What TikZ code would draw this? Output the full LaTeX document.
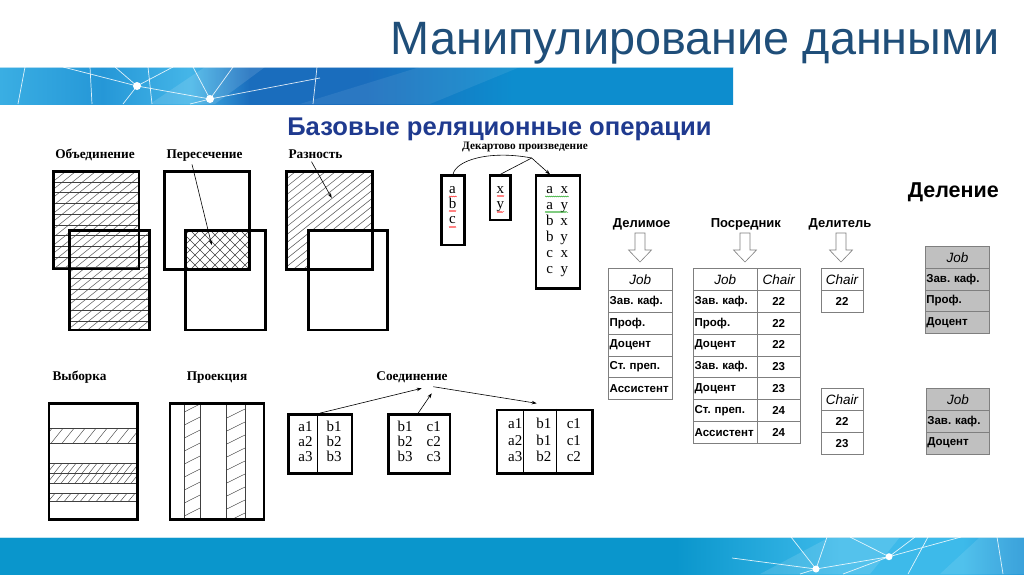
\documentclass[tikz,border=0pt]{standalone}
\usepackage{fontspec}
\setmainfont{Liberation Sans}
\newfontfamily\timesfont{Liberation Serif}
\usetikzlibrary{arrows.meta, positioning, decorations.pathmorphing}

\definecolor{titleblue}{HTML}{1F4E79}
\definecolor{subblue}{HTML}{1F3A8F}
\definecolor{barL}{HTML}{3AAEE3}
\definecolor{barM}{HTML}{2597D7}
\definecolor{barLight}{HTML}{45B6E8}
\definecolor{barD}{HTML}{1A6DBD}
\definecolor{barR}{HTML}{0D8DCE}
\definecolor{footblue}{HTML}{0A96CC}
\definecolor{footLight}{HTML}{3DBAEA}
\definecolor{tabgray}{HTML}{7F7F7F}
\definecolor{resgray}{HTML}{C0C0C0}
\pgfdeclarehorizontalshading{headbar}{100bp}{color(0bp)=(barL); color(25bp)=(barL); color(32bp)=(barM); color(38bp)=(barLight); color(42bp)=(barD); color(50bp)=(barD); color(60bp)=(barR); color(100bp)=(barR)}
\pgfdeclarehorizontalshading{footbar}{100bp}{color(0bp)=(footblue); color(58bp)=(footblue); color(66bp)=(footLight); color(72bp)=(footLight); color(75bp)=(barM); color(100bp)=(barM)}
\frenchspacing

\begin{document}
\begin{tikzpicture}[x=1pt, y=-1pt,
    frame/.style={line width=2.6pt},
    hatch/.style={line width=0.45pt, black!75},
    net/.style={white, line width=0.7pt, opacity=0.85},
    oplabel/.style={anchor=base, font=\timesfont\bfseries\fontsize{13.3}{15}\selectfont},
    setbox/.style={draw, line width=2.6pt, inner sep=0pt},
    setvals/.style={inner sep=0pt, font=\timesfont\fontsize{15}{15}\selectfont},
    joinbox/.style={draw, line width=2.4pt, inner sep=0pt, font=\timesfont\fontsize{15}{15}\selectfont},
    link/.style={line width=0.6pt},
    ptr/.style={-{Stealth[length=5pt, width=3.5pt]}, line width=0.6pt},
    squig/.style={decorate, decoration={snake, amplitude=0.5pt, segment length=2pt}, line width=0.4pt},
    divlabel/.style={anchor=base, font=\bfseries\fontsize{13}{15}\selectfont},
    cell/.style={draw=tabgray, line width=0.7pt, anchor=north west, minimum height=21.8pt, inner sep=1pt, font=\bfseries\fontsize{11.5}{13}\selectfont},
    jobcell/.style={cell, text width=61.4pt, align=left},
    hdcell/.style={cell, font=\itshape\fontsize{13.5}{15}\selectfont},
    numcell/.style={cell, minimum width=43.3pt},
    hollowdown/.pic={\draw[tabgray, line width=0.6pt, fill=white] (-5,0) -- (5,0) -- (5,17) -- (11.5,17) -- (0,29) -- (-11.5,17) -- (-5,17) -- cycle;}
  ]
  \useasboundingbox (0,0) rectangle (1024,574);
  \fill[white] (0,0) rectangle (1024,574);

  % header bar
  \shade[shading=headbar] (0,67) rectangle (733,104);
  \fill[white, opacity=0.12] (150,104) -- (205,67) -- (265,67) -- (215,104) -- cycle;
  \fill[white, opacity=0.08] (300,104) -- (420,67) -- (520,67) -- (430,104) -- cycle;
  \draw[white, opacity=0.6, line width=1pt] (0,67.5) -- (733,67.5);
  \draw[net] (25,67) -- (18,104) (63,67) -- (137,86) -- (210,99) -- (320,78)
    (90,67) -- (92,104) (115,67) -- (137,86) -- (123,104) (137,86) -- (173,67)
    (148,67) -- (152,104) (193,67) -- (210,99) -- (233,67) (210,99) -- (190,104)
    (317,67) -- (313,104);
  \fill[white] (137,86) circle (4) (210,99) circle (4);

  % footer bar
  \shade[shading=footbar] (0,537) rectangle (1024,574);
  \fill[white, opacity=0.12] (760,574) -- (830,537) -- (900,537) -- (870,574) -- cycle;
  \fill[white, opacity=0.10] (940,574) -- (980,537) -- (1024,537) -- (1024,574) -- cycle;
  \draw[footblue!25, line width=1.2pt] (0,537.5) -- (1024,537.5);
  \draw[net] (791,537) -- (816,569) -- (827,537) (850,537) -- (889,556.7) -- (915,537)
    (889,556.7) -- (961,537) (889,556.7) -- (843,574) (928,537) -- (908,574)
    (732,558) -- (816,569) -- (800,574) (816,569) -- (889,556.7) (997,537) -- (1003,574);
  \fill[white] (889,556.7) circle (3.5) (816,569) circle (3.5);

  % titles
  \node[anchor=base east, inner sep=0pt, text=titleblue, font=\fontsize{46.8}{55}\selectfont] (title) at (1000,54) {Манипулирование данными};
  \node[anchor=base, inner sep=0pt, text=subblue, font=\bfseries\fontsize{25.6}{30}\selectfont] (subtitle) at (499.5,135) {Базовые реляционные операции};

  % union
  \node[oplabel] (lblUnion) at (95,158) {Объединение};
  \begin{scope}
    \clip (53.3,171.7) rectangle (139,269) (69.3,230.7) rectangle (149.3,330);
    \foreach \i in {-200,-190,...,140} \draw[hatch] (\i,360) -- ++(250,-200);
    \foreach \y in {182,192.7,...,330} \draw[hatch] (40,\y) -- (160,\y);
  \end{scope}
  \draw[frame] (53.3,171.7) rectangle (139,269);
  \draw[frame] (69.3,230.7) rectangle (149.3,330);

  % intersection
  \node[oplabel] (lblInter) at (204.5,158) {Пересечение};
  \begin{scope}
    \clip (185.7,230.7) rectangle (249.3,269.3);
    \foreach \i in {100,110,...,260} {
      \draw[hatch] (\i,290) -- ++(80,-80);
      \draw[hatch] (\i,210) -- ++(80,80);
    }
  \end{scope}
  \draw[frame] (164.3,171.7) rectangle (249.3,269.3);
  \draw[frame] (185.7,230.7) rectangle (265.3,330);
  \coordinate (interPt) at (211.7,245);
  \draw[ptr] ([xshift=-12.5pt]lblInter.south) -- (interPt);

  % difference
  \node[oplabel] (lblDiff) at (315.5,158) {Разность};
  \begin{scope}
    \clip (286.7,171.7) rectangle (372.3,269.3);
    \foreach \i in {40,50,...,270} \draw[hatch] (\i,360) -- ++(250,-200);
  \end{scope}
  \fill[white] (308.3,230.7) rectangle (387.7,330);
  \draw[frame] (286.7,171.7) rectangle (372.3,269.3);
  \draw[frame] (308.3,230.7) rectangle (387.7,330);
  \coordinate (diffPt) at (331.7,198);
  \draw[ptr] ([xshift=-4pt]lblDiff.south) -- (diffPt);

  % cartesian product
  \node[oplabel, font=\timesfont\bfseries\fontsize{11.3}{13}\selectfont] (lblProd) at (525,149.5) {Декартово произведение};
  \node[setbox, minimum width=22.6pt, minimum height=69.3pt] (setA) at (453,210.3) {};
  \node[setbox, minimum width=20.7pt, minimum height=44.3pt] (setB) at (500.3,197.8) {};
  \node[setbox, minimum width=44pt, minimum height=112.6pt] (setC) at (558,232) {};
  \node[setvals] (valsA) at (452.5,205.5) {\begin{tabular}{@{}c@{}}a\\ b\\ c\end{tabular}};
  \node[setvals] (valsB) at (500.3,198) {\begin{tabular}{@{}c@{}}x\\ y\end{tabular}};
  \node[setvals, font=\timesfont\fontsize{15}{16}\selectfont] (valsC) at (557,230.5)
    {\begin{tabular}{@{}c@{\hspace{7pt}}c@{}}a & x\\ a & y\\ b & x\\ b & y\\ c & x\\ c & y\end{tabular}};
  \draw[squig, red] (449,196.5) -- (456,196.5) (449,211.5) -- (456,211.5) (449,226.5) -- (456,226.5)
    (497,196.5) -- (504,196.5) (497,211.5) -- (504,211.5);
  \draw[squig, green!60!black] (545,196.5) -- (568,196.5) (545,212.5) -- (568,212.5);
  \coordinate (prodHub) at (531.7,158);
  \draw[link] (setA.north) .. controls (456,160) and (490,150) .. (prodHub);
  \draw[link] (setB.north) -- (prodHub);
  \draw[ptr] (prodHub) -- ([xshift=-8pt]setC.north);

  % selection
  \node[oplabel] (lblSel) at (79.5,380) {Выборка};
  \begin{scope}
    \clip (49,403.3) rectangle (137.3,519.3);
    \draw[hatch] (40,428.3) -- (145,428.3) (40,443.3) -- (145,443.3)
      (40,463.3) -- (145,463.3) (40,473.3) -- (145,473.3) (40,483.3) -- (145,483.3)
      (40,493.3) -- (145,493.3) (40,501.7) -- (145,501.7);
    \foreach \x in {40,51,...,140} \draw[hatch] (\x,443.3) -- ++(12,-15);
    \foreach \x in {40,47,...,140} {
      \draw[hatch] (\x,473.3) -- ++(8,-10);
      \draw[hatch] (\x,483.3) -- ++(8,-10);
    }
    \foreach \x in {40,48,...,140} \draw[hatch] (\x,501.7) -- ++(7,-8.4);
  \end{scope}
  \draw[frame] (49,403.3) rectangle (137.3,519.3);

  % projection
  \node[oplabel] (lblProj) at (217,380) {Проекция};
  \begin{scope}
    \clip (184.3,403.3) rectangle (200,519.3);
    \foreach \y in {412,425,...,530} \draw[hatch] (184.3,\y) -- (200,{\y-8});
  \end{scope}
  \begin{scope}
    \clip (226.7,403.3) rectangle (245,519.3);
    \foreach \y in {405,418,...,530} \draw[hatch] (226.7,\y) -- (245,{\y-9});
  \end{scope}
  \draw[hatch] (184.3,403.3) -- (184.3,519.3) (200,403.3) -- (200,519.3)
    (226.7,403.3) -- (226.7,519.3) (245,403.3) -- (245,519.3);
  \draw[frame] (170,403.3) rectangle (264,519.3);

  % join
  \node[oplabel] (lblJoin) at (412,380) {Соединение};
  \node[joinbox, minimum width=63.4pt, minimum height=59pt] (joinA) at (320,443.8)
    {\begin{tabular}{@{}c@{\hspace{14pt}}c@{}}a1 & b1\\ a2 & b2\\ a3 & b3\end{tabular}};
  \node[joinbox, minimum width=61.7pt, minimum height=59pt] (joinB) at (419.2,443.8)
    {\begin{tabular}{@{}c@{\hspace{14pt}}c@{}}b1 & c1\\ b2 & c2\\ b3 & c3\end{tabular}};
  \node[joinbox, minimum width=95.6pt, minimum height=63.3pt, font=\timesfont\fontsize{15}{16.7}\selectfont] (joinC) at (544.5,441.7)
    {\begin{tabular}{@{}c@{\hspace{14pt}}c@{\hspace{15.5pt}}c@{}}a1 & b1 & c1\\ a2 & b1 & c1\\ a3 & b2 & c2\end{tabular}};
  \draw[link] ([xshift=-2.3pt]joinA.north) -- ([xshift=-2.3pt]joinA.south);
  \draw[link] ([xshift=-21.2pt]joinC.north) -- ([xshift=-21.2pt]joinC.south);
  \draw[link] ([xshift=12.2pt]joinC.north) -- ([xshift=12.2pt]joinC.south);
  \coordinate (joinTipA) at (421.7,388.3);
  \coordinate (joinTipB) at (431.7,393.3);
  \coordinate (joinHub) at (433.3,386.7);
  \coordinate (joinEnd) at (536.7,403.3);
  \draw[ptr] (joinA.north) -- (joinTipA);
  \draw[ptr] ([xshift=-1pt]joinB.north) -- (joinTipB);
  \draw[ptr] (joinHub) -- (joinEnd);

  % division
  \node[anchor=base east, inner sep=0pt, font=\bfseries\fontsize{21.5}{25}\selectfont] (lblDivision) at (999,197) {Деление};
  \node[divlabel] (lblDividend) at (641.7,227.5) {Делимое};
  \node[divlabel] (lblMediator) at (745.8,227.5) {Посредник};
  \node[divlabel] (lblDivisor) at (840,227.5) {Делитель};
  \pic at (640,233) {hollowdown};
  \pic at (745,233) {hollowdown};
  \pic at (841,233) {hollowdown};

  % dividend table
  \node[hdcell, minimum width=63.4pt] (dd0) at (608.3,268.3) {Job};
  \foreach \t [count=\i] in {Зав. каф., Проф., Доцент, Ст. преп., Ассистент}
    \node[jobcell] (dd\i) at (608.3,{268.3+21.8*\i}) {\t};

  % mediator table
  \node[hdcell, minimum width=63.4pt] (mj0) at (693.3,268.3) {Job};
  \node[hdcell, minimum width=43.3pt] (mc0) at (756.7,268.3) {Chair};
  \foreach \t/\n [count=\i] in {Зав. каф./22, Проф./22, Доцент/22, Зав. каф./23, Доцент/23, Ст. преп./24, Ассистент/24} {
    \node[jobcell] (mj\i) at (693.3,{268.3+21.8*\i}) {\t};
    \node[numcell] (mc\i) at (756.7,{268.3+21.8*\i}) {\n};
  }

  % divisors
  \node[hdcell, minimum width=42pt] (dv0) at (820.7,268.3) {Chair};
  \node[numcell, minimum width=42pt] (dv1) at (820.7,290.1) {22};
  \node[hdcell, minimum width=42pt] (dw0) at (820.7,388.3) {Chair};
  \foreach \n [count=\i] in {22, 23}
    \node[numcell, minimum width=42pt] (dw\i) at (820.7,{388.3+21.8*\i}) {\n};

  % results
  \node[hdcell, fill=resgray, minimum width=64.3pt] (ra0) at (925,246) {Job};
  \foreach \t [count=\i] in {Зав. каф., Проф., Доцент}
    \node[jobcell, fill=resgray, text width=62.3pt] (ra\i) at (925,{246+21.8*\i}) {\t};
  \node[hdcell, fill=resgray, minimum width=63.3pt] (rb0) at (926,388.3) {Job};
  \foreach \t [count=\i] in {Зав. каф., Доцент}
    \node[jobcell, fill=resgray, text width=61.3pt] (rb\i) at (926,{388.3+21.8*\i}) {\t};
\end{tikzpicture}
\end{document}
